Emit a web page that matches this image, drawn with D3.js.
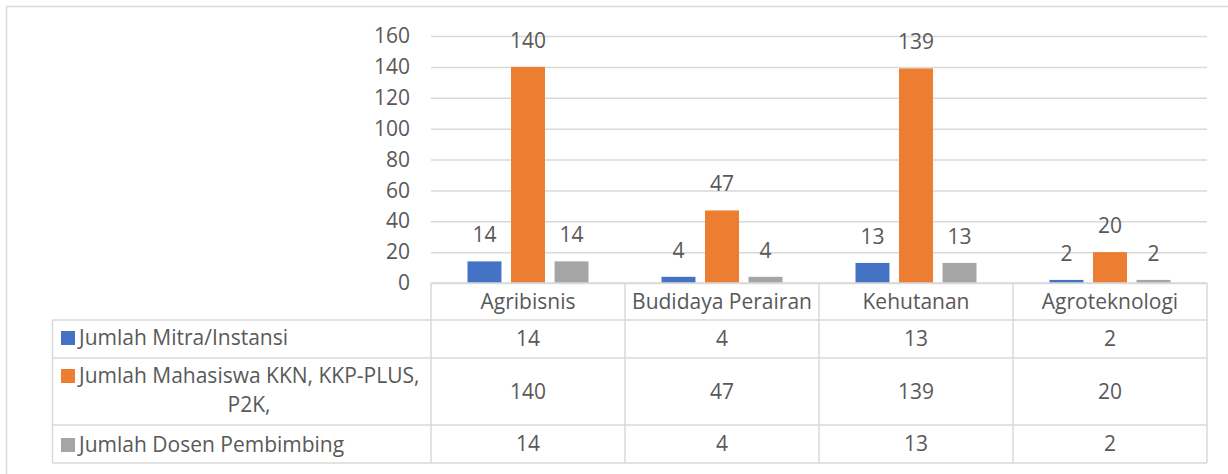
<!DOCTYPE html>
<html>
<head>
<meta charset="utf-8">
<script src="https://cdn.jsdelivr.net/npm/d3@7"></script>
<style>
  body { margin: 0; background: #fff; }
  text { font-family: "Open Sans", Lato, sans-serif; fill: #595959; }
</style>
</head>
<body>
<div id="chart"></div>
<script>
// Data
var categories = ['Agribisnis', 'Budidaya Perairan', 'Kehutanan', 'Agroteknologi'];
var seriesNames = ['Jumlah Mitra/Instansi', 'Jumlah Mahasiswa KKN, KKP-PLUS, P2K,', 'Jumlah Dosen Pembimbing'];
var mitra = [14, 4, 13, 2];
var mahasiswa = [140, 47, 139, 20];
var dosen = [14, 4, 13, 2];
var yTicks = [0, 20, 40, 60, 80, 100, 120, 140, 160];

var seriesValues = [mitra, mahasiswa, dosen];
var colors = ['#4472C4', '#ED7D31', '#A5A5A5'];

// Layout
var W = 1228, H = 474;
var plot = { left: 431, right: 1207, top: 36, bottom: 283 };
var table = { left: 52.5, rows: [283, 320, 358, 425, 463] };
var gridColor = '#d9d9d9';
var fontSize = '21px';

var svg = d3.select('#chart').append('svg')
  .attr('width', W)
  .attr('height', H);

// outer frame (cut off on right and bottom)
svg.append('rect')
  .attr('x', 6.5).attr('y', 6.5)
  .attr('width', W + 10).attr('height', H + 10)
  .attr('fill', 'none')
  .attr('stroke', gridColor)
  .attr('stroke-width', 1.5);

// Scales
var x = d3.scaleBand()
  .domain(categories)
  .range([plot.left, plot.right]);

var xSub = d3.scaleBand()
  .domain(d3.range(seriesNames.length))
  .range([36.5, x.bandwidth() - 36.5])
  .paddingInner(0.22);

var y = d3.scaleLinear()
  .domain([0, 160])
  .range([plot.bottom, plot.top]);

// Gridlines + y labels
var yAxis = d3.axisLeft(y)
  .tickValues(yTicks)
  .tickSize(-(plot.right - plot.left))
  .tickPadding(21);

var yg = svg.append('g')
  .attr('transform', 'translate(' + plot.left + ',0)')
  .call(yAxis);
yg.select('.domain').remove();
yg.selectAll('.tick line')
  .attr('stroke', gridColor)
  .attr('stroke-width', 1.5);
yg.selectAll('.tick text')
  .style('font-size', fontSize)
  .style('fill', '#595959')
  .style('font-family', '"Open Sans", Lato, sans-serif');

// Bars
var groups = svg.append('g').selectAll('g')
  .data(seriesNames)
  .enter().append('g')
  .attr('fill', function (d, i) { return colors[i]; });

groups.each(function (name, si) {
  var g = d3.select(this);
  g.selectAll('rect')
    .data(seriesValues[si])
    .enter().append('rect')
    .attr('x', function (d, i) { return x(categories[i]) + xSub(si); })
    .attr('y', function (d) { return y(d); })
    .attr('width', xSub.bandwidth())
    .attr('height', function (d) { return y(0) - y(d); });

  // data labels
  svg.append('g').selectAll('text')
    .data(seriesValues[si])
    .enter().append('text')
    .attr('x', function (d, i) { return x(categories[i]) + xSub(si) + xSub.bandwidth() / 2; })
    .attr('y', function (d) { return y(d) - 19; })
    .attr('text-anchor', 'middle')
    .style('font-size', fontSize)
    .text(function (d) { return d; });
});

// Data table lines
var tl = svg.append('g')
  .attr('stroke', gridColor)
  .attr('stroke-width', 1.5);

table.rows.forEach(function (ry, i) {
  tl.append('line')
    .attr('x1', i === 0 ? plot.left : table.left)
    .attr('x2', plot.right)
    .attr('y1', ry).attr('y2', ry);
});
// vertical lines
tl.append('line')
  .attr('x1', table.left).attr('x2', table.left)
  .attr('y1', table.rows[1]).attr('y2', table.rows[4]);
categories.forEach(function (c) {
  tl.append('line')
    .attr('x1', x(c)).attr('x2', x(c))
    .attr('y1', table.rows[0]).attr('y2', table.rows[4]);
});
tl.append('line')
  .attr('x1', plot.right).attr('x2', plot.right)
  .attr('y1', table.rows[0]).attr('y2', table.rows[4]);

// Category header text
svg.append('g').selectAll('text')
  .data(categories)
  .enter().append('text')
  .attr('x', function (d) { return x(d) + x.bandwidth() / 2; })
  .attr('y', (table.rows[0] + table.rows[1]) / 2)
  .attr('dy', '0.35em')
  .attr('text-anchor', 'middle')
  .style('font-size', fontSize)
  .text(function (d) { return d; });

// Table values
seriesValues.forEach(function (vals, si) {
  var cy = (table.rows[si + 1] + table.rows[si + 2]) / 2;
  svg.append('g').selectAll('text')
    .data(vals)
    .enter().append('text')
    .attr('x', function (d, i) { return x(categories[i]) + x.bandwidth() / 2; })
    .attr('y', cy)
    .attr('dy', '0.35em')
    .attr('text-anchor', 'middle')
    .style('font-size', fontSize)
    .text(function (d) { return d; });
});

// Legend keys + series names
var legendLines = [
  [seriesNames[0]],
  ['Jumlah Mahasiswa KKN, KKP-PLUS,', 'P2K,'],
  [seriesNames[2]]
];
var keyY = [331, 369, 438];
legendLines.forEach(function (lines, si) {
  svg.append('rect')
    .attr('x', 61).attr('y', keyY[si])
    .attr('width', 14).attr('height', 14)
    .attr('fill', colors[si]);
  svg.append('text')
    .attr('x', 79)
    .attr('y', keyY[si] + 7)
    .attr('dy', '0.35em')
    .style('font-size', fontSize)
    .text(lines[0]);
  if (lines.length > 1) {
    svg.append('text')
      .attr('x', 249)
      .attr('y', 405)
      .attr('dy', '0.35em')
      .attr('text-anchor', 'middle')
      .style('font-size', fontSize)
      .text(lines[1]);
  }
});
</script>
</body>
</html>
